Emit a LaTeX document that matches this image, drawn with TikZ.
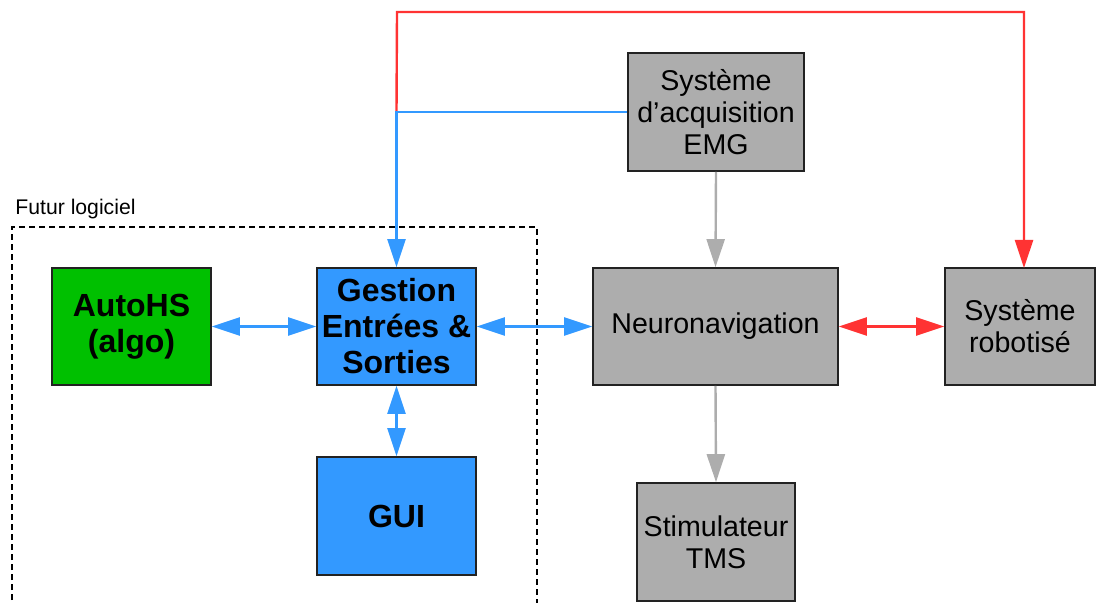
\documentclass[tikz,border=0pt]{standalone}
\usepackage{fontspec}
\setmainfont{Liberation Sans}
\usetikzlibrary{arrows.meta}
\definecolor{cblue}{HTML}{3399FF}
\definecolor{cgreen}{HTML}{00C000}
\definecolor{cgray}{HTML}{ADADAD}
\definecolor{cred}{HTML}{FF3333}
\definecolor{cborder}{HTML}{222222}
\tikzset{
  box/.style={draw=cborder, line width=0.8pt, inner sep=0pt, align=center, minimum height=58.5pt},
  graybox/.style={box, fill=cgray, font=\fontsize{14.3}{16}\selectfont},
  bluebox/.style={box, fill=cblue, font=\fontsize{16}{18}\selectfont\bfseries},
  greenbox/.style={box, fill=cgreen, font=\fontsize{16}{18}\selectfont\bfseries},
  conn/.style={line width=1.2pt, -{Triangle[length=14pt,width=9pt]}},
  dconn/.style={line width=1.2pt, {Triangle[length=14pt,width=9pt]}-{Triangle[length=14pt,width=9pt]}},
}
\begin{document}
\begin{tikzpicture}[x=0.5pt,y=-0.5pt]
\useasboundingbox (0,0) rectangle (1096,603);
% dashed frame
\draw[line width=1.2pt, dash pattern=on 3pt off 2pt] (12,610) -- (12,227) -- (537,227) -- (537,610);
\node[anchor=base west, inner sep=0pt, font=\fontsize{10.6}{12}\selectfont] (lbl) at (15,215) {Futur logiciel};
% nodes
\node[graybox, minimum width=88pt, minimum height=59pt] (emg) at (716,112) {Système\\d’acquisition\\EMG};
\node[graybox, minimum width=122.5pt] (neuro) at (715.5,326.5) {\raisebox{-1.5pt}{Neuronavigation}};
\node[graybox, minimum width=75pt] (robot) at (1020,326.5) {Système\\robotisé};
\node[bluebox, minimum width=79.5pt] (gest) at (396.5,326.5) {Gestion\\Entrées \&\\Sorties};
\node[greenbox, minimum width=79.5pt] (auto) at (131.5,326.5) {AutoHS\\(algo)};
\node[bluebox, minimum width=79.5pt, minimum height=59pt] (gui) at (396.5,516) {GUI};
\node[graybox, minimum width=79pt, minimum height=59pt] (stim) at (716,542) {Stimulateur\\TMS};
% coordinates
\coordinate (junc) at (gest.north |- emg.west);
\coordinate (topl) at (397,12);
\coordinate (topr) at (1024,12);
\coordinate (rin) at (1024,268);
% connectors
\draw[conn, cred] (junc) -- (topl) -- (topr) -- (rin);
\draw[conn, cblue] (emg.west) -- (junc) -- (gest.north);
\draw[conn, cgray] (emg.south) -- (neuro.north);
\draw[conn, cgray] (neuro.south) -- (stim.north);
\draw[dconn, cblue] (auto.east) -- (gest.west);
\draw[dconn, cblue] (gest.east) -- (neuro.west);
\draw[dconn, cblue] (gest.south) -- (gui.north);
\draw[dconn, cred] (neuro.east) -- (robot.west);
\end{tikzpicture}
\end{document}
